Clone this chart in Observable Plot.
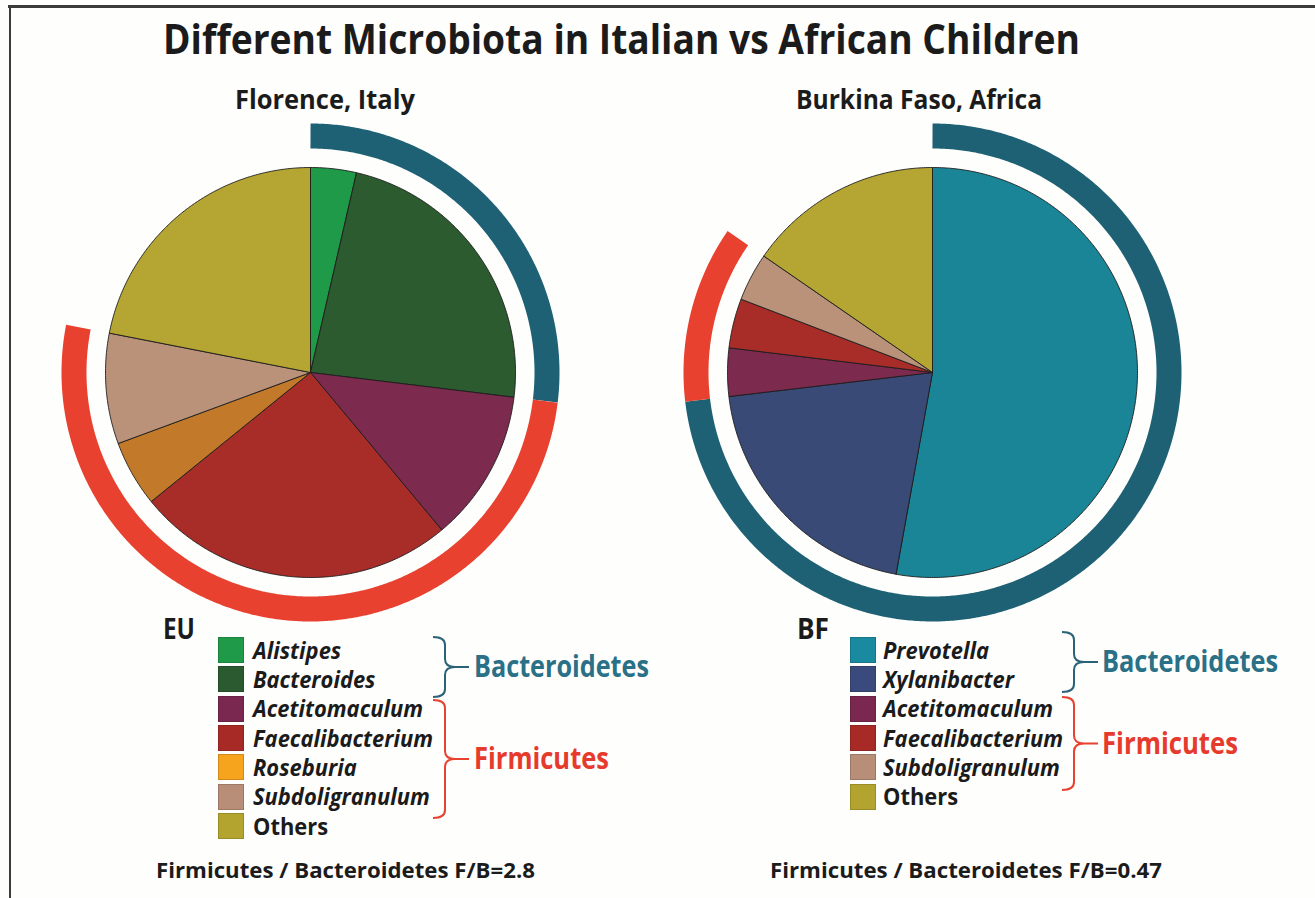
<!DOCTYPE html>
<html><head><meta charset="utf-8">
<script src="https://cdn.jsdelivr.net/npm/d3@7"></script>
<script src="https://cdn.jsdelivr.net/npm/@observablehq/plot@0.6"></script>
<style>
html,body{margin:0;padding:0;background:#fefefc;}
#root{position:relative;width:1315px;height:898px;overflow:hidden;background:#fefefc;}
.t{position:absolute;white-space:nowrap;transform-origin:0 50%;}
.sw{position:absolute;width:26px;height:26px;box-sizing:border-box;border:1px solid rgba(0,0,0,0.15);}
.pie{position:absolute;}
</style></head><body><div id="root"></div>
<script>
// ---------- data ----------
const euCategories = ["Alistipes","Bacteroides","Acetitomaculum","Faecalibacterium","Roseburia","Subdoligranulum","Others"];
const euValues     = [3.6, 23.3, 12.0, 25.2, 5.2, 8.7, 21.9];
const euPhylum     = ["Bacteroidetes","Bacteroidetes","Firmicutes","Firmicutes","Firmicutes","Firmicutes",null];
const euSliceColors  = ["#1f9a48","#2c5b2f","#7d2a4f","#a82d29","#c27a2a","#b99279","#b5a532"];
const euLegendColors = ["#1f9a48","#2b5a30","#7a2850","#a82a26","#f6a31e","#b98e78","#b3a42f"];

const bfCategories = ["Prevotella","Xylanibacter","Acetitomaculum","Faecalibacterium","Subdoligranulum","Others"];
const bfValues     = [52.9, 20.3, 3.8, 3.9, 3.8, 15.4];
const bfPhylum     = ["Bacteroidetes","Bacteroidetes","Firmicutes","Firmicutes","Firmicutes",null];
const bfSliceColors  = ["#1b8598","#3a4a76","#7d2a4f","#a82d29","#b99279","#b5a532"];
const bfLegendColors = ["#1a8aa0","#3a4a7c","#7a2850","#a82a26","#b98e78","#b3a42f"];

const phyla = ["Bacteroidetes","Firmicutes"];
const phylumColors = {Bacteroidetes: "#1e6174", Firmicutes: "#e8412f"};
const braceColors = {Bacteroidetes: "#2a6378", Firmicutes: "#e8412f"};
const phylumTextColors = {Bacteroidetes: "#2a7086", Firmicutes: "#e63b2c"};

const title = "Different Microbiota in Italian vs African Children";
const panelTitles = ["Florence, Italy", "Burkina Faso, Africa"];
const panelCodes = ["EU", "BF"];
const ratioLabels = ["Firmicutes / Bacteroidetes F/B=2.8", "Firmicutes / Bacteroidetes F/B=0.47"];

// ---------- layout ----------
const root = document.getElementById("root");
const FONT = '"Open Sans", "DejaVu Sans", sans-serif';
const R = 205;          // pie radius in px
const SIZE = 560;       // plot size
const D = SIZE / 2 / R; // domain half-width in radius units

function addText(str, o) {
  const el = document.createElement("div");
  el.className = "t";
  el.textContent = str;
  el.style.fontSize = o.fs + "px";
  el.style.lineHeight = o.fs + "px";
  el.style.fontWeight = o.weight ?? 700;
  el.style.fontFamily = FONT;
  if (o.italic) el.style.fontStyle = "italic";
  el.style.color = o.color ?? "#1b1b1b";
  root.appendChild(el);
  const w = el.getBoundingClientRect().width;
  const s = o.width ? o.width / w : (o.scale ?? 1);
  el.style.transform = `scaleX(${s})`;
  el.style.left = o.x0 + "px";
  el.style.top = (o.cy - 0.531 * o.fs) + "px";
  return el;
}

function arcPts(a0, a1, r) {
  const n = Math.max(2, Math.ceil((a1 - a0) / (Math.PI / 360)));
  return d3.range(n + 1).map(k => {
    const a = a0 + (a1 - a0) * k / n;
    return {x: r * Math.sin(a), y: r * Math.cos(a)};
  });
}

function piePlot(categories, values, colors, phylum) {
  const total = d3.sum(values);
  let acc = 0;
  const slices = categories.map((c, i) => {
    const a0 = acc / total * 2 * Math.PI; acc += values[i];
    const a1 = acc / total * 2 * Math.PI;
    return {c, a0, a1, color: colors[i], phylum: phylum[i]};
  });
  const marks = slices.map(s =>
    Plot.line([{x: 0, y: 0}, ...arcPts(s.a0, s.a1, 1), {x: 0, y: 0}],
      {x: "x", y: "y", fill: s.color, stroke: "#1c1c1c", strokeWidth: 0.9, strokeLinejoin: "round"}));
  const ringR = 236.5 / R;
  for (const p of phyla) {
    const m = slices.filter(s => s.phylum === p);
    const a0 = d3.min(m, s => s.a0), a1 = d3.max(m, s => s.a1);
    marks.push(Plot.line(arcPts(a0, a1, ringR),
      {x: "x", y: "y", stroke: phylumColors[p], strokeWidth: 25, strokeLinecap: "butt", fill: "none"}));
  }
  return Plot.plot({
    width: SIZE, height: SIZE, margin: 0,
    x: {domain: [-D, D], axis: null},
    y: {domain: [-D, D], axis: null},
    style: {background: "transparent", overflow: "visible"},
    marks
  });
}

// frame
const fTop = document.createElement("div");
Object.assign(fTop.style, {position: "absolute", left: "8px", top: "5px", width: "1310px", height: "3px", background: "#3c3c3c"});
root.appendChild(fTop);
const fLeft = document.createElement("div");
Object.assign(fLeft.style, {position: "absolute", left: "9px", top: "5px", width: "2px", height: "900px", background: "#3c3c3c"});
root.appendChild(fLeft);

// pies
const pieCenters = [[310, 372], [932, 372]];
const pies = [
  piePlot(euCategories, euValues, euSliceColors, euPhylum),
  piePlot(bfCategories, bfValues, bfSliceColors, bfPhylum)
];
pies.forEach((p, i) => {
  p.classList.add("pie");
  p.style.left = (pieCenters[i][0] - SIZE / 2) + "px";
  p.style.top = (pieCenters[i][1] - SIZE / 2) + "px";
  root.appendChild(p);
});

// titles
addText(title, {x0: 163, cy: 40, fs: 41, width: 917});
addText(panelTitles[0], {x0: 235, cy: 100, fs: 26, width: 180});
addText(panelTitles[1], {x0: 796, cy: 100, fs: 26, width: 246});

// legends
const legends = [
  {code: panelCodes[0], codeX: 163, cats: euCategories, colors: euLegendColors, phylum: euPhylum, swX: 218, labX: 253,
   braceX: 433, textX: 474, ratioX: 156, ratioW: 379,
   braces: {Bacteroidetes: [637, 697], Firmicutes: [700, 818]}, textW: {Bacteroidetes: 175, Firmicutes: 135}},
  {code: panelCodes[1], codeX: 797, cats: bfCategories, colors: bfLegendColors, phylum: bfPhylum, swX: 850, labX: 883,
   braceX: 1062, textX: 1102, ratioX: 770, ratioW: 392,
   braces: {Bacteroidetes: [632, 692], Firmicutes: [697, 790]}, textW: {Bacteroidetes: 176, Firmicutes: 136}}
];
const rowY0 = 650, rowStep = 29.3;

// italic label scale from widest label
const probe = addText("Faecalibacterium", {x0: -2000, cy: 0, fs: 23, italic: true});
const labScale = 180 / probe.getBoundingClientRect().width;
probe.remove();

const svgNS = "http://www.w3.org/2000/svg";
const braceSvg = document.createElementNS(svgNS, "svg");
braceSvg.setAttribute("width", 1315); braceSvg.setAttribute("height", 898);
Object.assign(braceSvg.style, {position: "absolute", left: 0, top: 0});
root.appendChild(braceSvg);

function brace(x0, y0, y1, color) {
  const x1 = x0 + 12, xm = x0 + 22, xe = x0 + 36, ym = (y0 + y1) / 2, r = 8;
  const d = `M${x0},${y0} Q${x1},${y0} ${x1},${y0 + r} L${x1},${ym - r} Q${x1},${ym} ${xm},${ym} L${xe},${ym} M${xm},${ym} Q${x1},${ym} ${x1},${ym + r} L${x1},${y1 - r} Q${x1},${y1} ${x0},${y1}`;
  const p = document.createElementNS(svgNS, "path");
  p.setAttribute("d", d); p.setAttribute("fill", "none");
  p.setAttribute("stroke", color); p.setAttribute("stroke-width", 2);
  braceSvg.appendChild(p);
}

legends.forEach(L => {
  addText(L.code, {x0: L.codeX, cy: 629, fs: 28, width: 32});
  L.cats.forEach((c, i) => {
    const cy = rowY0 + i * rowStep;
    const sw = document.createElement("div");
    sw.className = "sw";
    sw.style.left = L.swX + "px"; sw.style.top = (cy - 13) + "px";
    sw.style.background = L.colors[i];
    root.appendChild(sw);
    addText(c, {x0: L.labX, cy: cy + 1, fs: 23, italic: c !== "Others", scale: labScale});
  });
  for (const p of phyla) {
    const [y0, y1] = L.braces[p];
    brace(L.braceX, y0, y1, braceColors[p]);
    addText(p, {x0: L.textX, cy: (y0 + y1) / 2, fs: 30, color: phylumTextColors[p], width: L.textW[p]});
  }
});
addText(ratioLabels[0], {x0: legends[0].ratioX, cy: 870, fs: 22, width: legends[0].ratioW});
addText(ratioLabels[1], {x0: legends[1].ratioX, cy: 870, fs: 22, width: legends[1].ratioW});
</script></body></html>
